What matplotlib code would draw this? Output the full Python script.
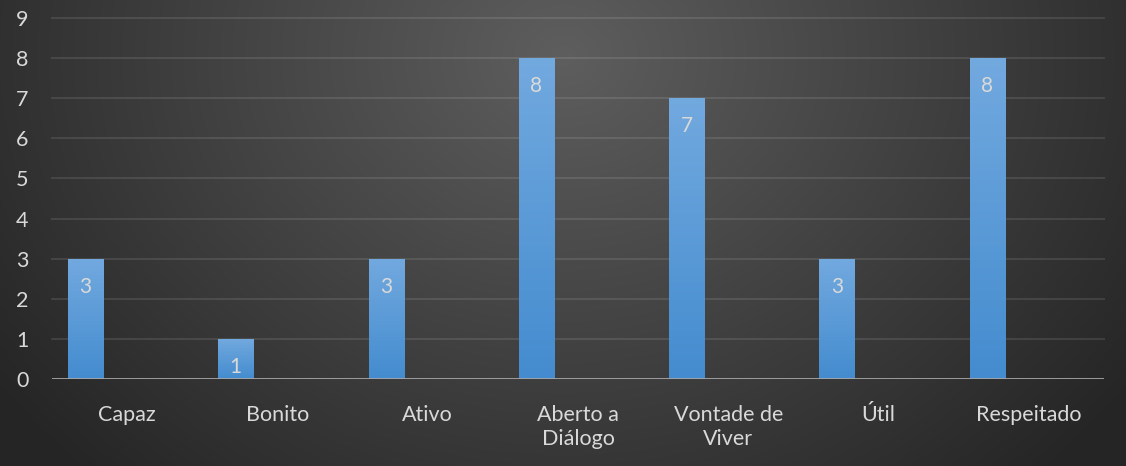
import numpy as np
import matplotlib
matplotlib.use("Agg")
import matplotlib.pyplot as plt

categories = ["Capaz", "Bonito", "Ativo", "Aberto a\nDiálogo", "Vontade de\nViver", "Útil", "Respeitado"]
values = [3, 1, 3, 8, 7, 3, 8]
yticks = list(range(0, 10))

W, H = 1126, 466
fig = plt.figure(figsize=(W / 100, H / 100), dpi=100)

# radial background
bg = fig.add_axes([0, 0, 1, 1])
yy, xx = np.mgrid[0:H, 0:W]
cx, cy = W * 0.5, H * 0.12
r = np.sqrt(((xx - cx) / (W * 0.62)) ** 2 + ((yy - cy) / (H * 1.25)) ** 2)
r = np.clip(r, 0, 1)
inner = np.array([0x5e, 0x5e, 0x5e]) / 255
outer = np.array([0x25, 0x25, 0x25]) / 255
img = inner[None, None, :] * (1 - r[..., None]) + outer[None, None, :] * r[..., None]
bg.imshow(img, extent=[0, 1, 0, 1], aspect="auto", origin="upper")
bg.axis("off")

ax = fig.add_axes([52 / W, 87 / H, (1104 - 52) / W, (379 - 18) / H])
ax.set_facecolor("none")
ax.set_xlim(-0.5, len(categories) - 0.5)
ax.set_ylim(0, 9)

x = np.arange(len(categories))
offset, width = -0.277, 0.233
bars = ax.bar(x + offset, values, width=width, color="#5b9bd5", zorder=3)

grad = np.linspace(0, 1, 256)[:, None]
top = np.array([0x72, 0xa9, 0xdf]) / 255
bot = np.array([0x44, 0x8c, 0xcf]) / 255
gimg = top[None, None, :] * (1 - grad[..., None]) + bot[None, None, :] * grad[..., None]
for b in bars:
    x0, w, h = b.get_x(), b.get_width(), b.get_height()
    im = ax.imshow(gimg, extent=[x0, x0 + w, 0, h], aspect="auto", origin="upper", zorder=4)
    im.set_clip_path(b)
    ax.text(x0 + w / 2, h - 0.7, str(int(h)),
            ha="center", va="center", color="#d9d9d9", fontsize=15, family="Lato", zorder=5)

for t in yticks[1:]:
    ax.axhline(t, color="#ffffff", alpha=0.1, lw=1.5, zorder=1, clip_on=False)
ax.axhline(0, color="#a6a6a6", lw=2, zorder=6)

for s in ax.spines.values():
    s.set_visible(False)
ax.set_yticks(yticks)
ax.set_yticklabels([str(t) for t in yticks], family="Lato", fontsize=15.5, color="#d9d9d9")
ax.set_xticks(x)
ax.set_xticklabels(categories, family="Lato", fontsize=15.5, color="#d9d9d9", linespacing=1.25)
ax.tick_params(axis="both", length=0)
ax.tick_params(axis="y", pad=17)
ax.tick_params(axis="x", pad=19)

fig.savefig("out.png", dpi=100)
